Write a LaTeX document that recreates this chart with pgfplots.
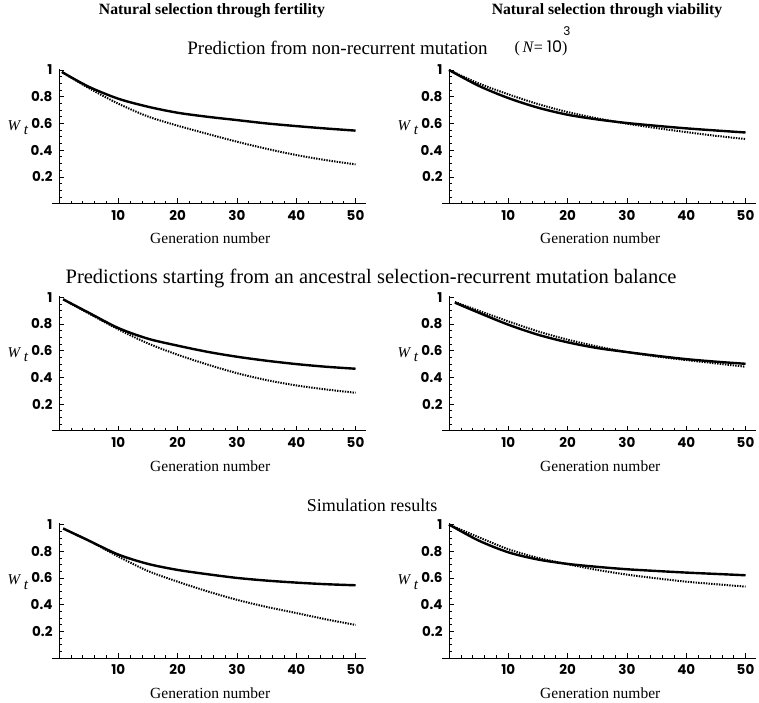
\documentclass[border=0pt]{standalone}
\usepackage{fontspec}
\setmainfont{Liberation Serif}
\newfontfamily\tickfont{Poppins}
\usepackage{pgfplots}
\pgfplotsset{compat=1.18}

\pgfplotsset{
 wpanel/.style={
  scale only axis, width=314.3pt, height=134.8pt,
  xmin=-1.2, xmax=51.8, ymin=0, ymax=1.01,
  axis lines=middle, axis line style={-, line width=0.9pt, black},
  xtick={10,20,30,40,50}, ytick={0.2,0.4,0.6,0.8,1},
  minor xtick={2,4,...,50}, minor ytick={0.05,0.1,...,1.0},
  tick align=inside, major tick length=5pt, minor tick length=2.8pt,
  every tick/.style={line width=0.6pt, black},
  /pgf/number format/assume math mode=true,
  tick label style={font=\tickfont\bfseries\fontsize{13.5}{13.5}\selectfont},
  xticklabel style={yshift=-3pt},
  yticklabel style={xshift=-3pt},
  clip=false,
 },
 sol/.style={black, line width=2.4pt, smooth, no marks},
 dot/.style={black, line width=2pt, smooth, no marks, dash pattern=on 1.4pt off 1.2pt},
}
\newcommand{\panellabels}{%
  \node[font=\fontsize{15.5}{15.5}\selectfont] at (axis cs:25.5,0) [yshift=-35pt] {Generation number};
  \node[font=\fontsize{15}{15}\selectfont] at (axis cs:0,0.57) [xshift=-41pt] {\textit{W}\raisebox{-4.5pt}{\,\textit{t}}};
}

\begin{document}
\begin{tikzpicture}
\path[use as bounding box] (0,0) rectangle (759pt,702pt);

\node[font=\bfseries\fontsize{15.7}{15.7}\selectfont] at (212pt,691pt) {Natural selection through fertility};
\node[font=\bfseries\fontsize{15.7}{15.7}\selectfont] at (607pt,691pt) {Natural selection through viability};
\node[font=\fontsize{19}{19}\selectfont] at (337.5pt,654pt) {Prediction from non-recurrent mutation};
\node[font=\fontsize{16}{16}\selectfont] at (541pt,654pt) {(\,\textit{N}= {\tickfont 10})};
\node[font=\tickfont\fontsize{12}{12}\selectfont] at (567pt,671pt) {3};
\node[font=\fontsize{20.5}{20.5}\selectfont] at (371pt,424pt) {Predictions starting from an ancestral selection-recurrent mutation balance};
\node[font=\fontsize{18}{18}\selectfont] at (372pt,197pt) {Simulation results};

% Row 1 left
\begin{axis}[wpanel, at={(51.9pt,498.5pt)}, anchor=south west]
\addplot[sol] coordinates {(0.5,0.985) (5,0.875) (10,0.785) (15,0.725) (20,0.68) (25,0.65) (30,0.625) (35,0.60) (40,0.58) (45,0.562) (50,0.546)};
\addplot[dot] coordinates {(0.5,0.985) (5,0.865) (10,0.748) (15,0.652) (20,0.583) (25,0.522) (30,0.463) (35,0.41) (40,0.363) (45,0.325) (50,0.293)};
\panellabels
\end{axis}
% Row 1 right
\begin{axis}[wpanel, at={(441.9pt,498.5pt)}, anchor=south west]
\addplot[sol] coordinates {(0,1.0) (5,0.882) (10,0.79) (15,0.718) (20,0.665) (25,0.63) (30,0.603) (35,0.582) (40,0.563) (45,0.547) (50,0.532)};
\addplot[dot] coordinates {(0,1.0) (5,0.9) (10,0.818) (15,0.745) (20,0.685) (25,0.638) (30,0.598) (35,0.565) (40,0.535) (45,0.507) (50,0.483)};
\panellabels
\end{axis}
% Row 2 left
\begin{axis}[wpanel, at={(51.9pt,271.2pt)}, anchor=south west]
\addplot[sol] coordinates {(0.7,0.985) (5,0.885) (10,0.77) (15,0.69) (20,0.638) (25,0.592) (30,0.555) (35,0.525) (40,0.5) (45,0.48) (50,0.465)};
\addplot[dot] coordinates {(0.7,0.985) (5,0.88) (10,0.76) (15,0.655) (20,0.57) (25,0.497) (30,0.432) (35,0.38) (40,0.34) (45,0.31) (50,0.285)};
\panellabels
\end{axis}
% Row 2 right
\begin{axis}[wpanel, at={(441.9pt,271.2pt)}, anchor=south west]
\addplot[sol] coordinates {(1,0.96) (5,0.885) (10,0.795) (15,0.72) (20,0.663) (25,0.62) (30,0.59) (35,0.562) (40,0.537) (45,0.518) (50,0.502)};
\addplot[dot] coordinates {(1,0.965) (5,0.9) (10,0.82) (15,0.745) (20,0.683) (25,0.632) (30,0.59) (35,0.557) (40,0.53) (45,0.505) (50,0.48)};
\panellabels
\end{axis}
% Row 3 left
\begin{axis}[wpanel, at={(51.9pt,44pt)}, anchor=south west]
\addplot[sol] coordinates {(0.7,0.97) (5,0.88) (10,0.775) (15,0.705) (20,0.66) (25,0.628) (30,0.6) (35,0.58) (40,0.565) (45,0.553) (50,0.545)};
\addplot[dot] coordinates {(0.7,0.97) (5,0.88) (10,0.76) (15,0.652) (20,0.572) (25,0.5) (30,0.436) (35,0.383) (40,0.337) (45,0.29) (50,0.248)};
\panellabels
\end{axis}
% Row 3 right
\begin{axis}[wpanel, at={(441.9pt,44pt)}, anchor=south west]
\addplot[sol] coordinates {(0,1.0) (5,0.88) (10,0.792) (15,0.738) (20,0.705) (25,0.683) (30,0.665) (35,0.652) (40,0.64) (45,0.63) (50,0.62)};
\addplot[dot] coordinates {(0,1.0) (5,0.905) (10,0.815) (15,0.75) (20,0.703) (25,0.66) (30,0.625) (35,0.597) (40,0.572) (45,0.553) (50,0.535)};
\panellabels
\end{axis}
\end{tikzpicture}
\end{document}
